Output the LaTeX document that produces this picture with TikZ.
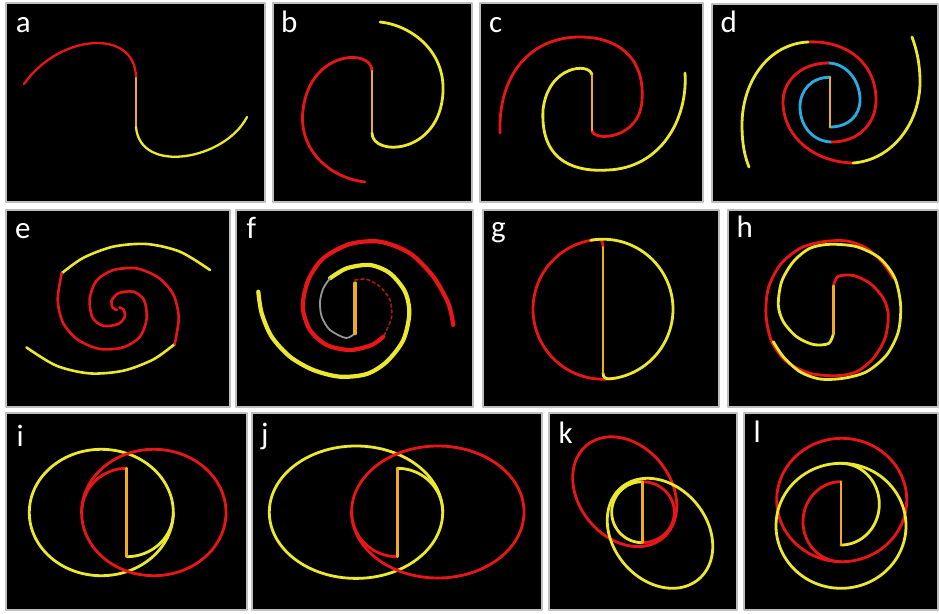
\documentclass[tikz,border=0pt]{standalone}
\usepackage{fontspec}
\setmainfont{Carlito}
\definecolor{cred}{RGB}{232,22,22}
\definecolor{cyel}{RGB}{235,232,45}
\definecolor{corg}{RGB}{240,172,28}
\definecolor{ccyan}{RGB}{40,172,225}
\definecolor{cgray}{RGB}{150,150,150}
\definecolor{cdred}{RGB}{170,25,25}
\definecolor{cframe}{RGB}{190,190,190}
\begin{document}
\begin{tikzpicture}[x=1pt,y=-1pt,line cap=round,line join=round,
  panel/.style={fill=black,draw=cframe,line width=1.3pt},
  lab/.style={text=white,anchor=base west,inner sep=0pt,font=\fontsize{31}{31}\selectfont},
  rd/.style={draw=cred,line width=2.8pt},
  yl/.style={draw=cyel,line width=2.8pt},
  og/.style={draw=corg,line width=2.8pt},
  cy/.style={draw=ccyan,line width=2.8pt},
  fr/.style={draw=cred,line width=4.2pt},
  fy/.style={draw=cyel,line width=4.2pt},
  fo/.style={draw=corg,line width=4pt},
  gy/.style={draw=cgray,line width=1.8pt},
  dr/.style={draw=cdred,line width=1.6pt,dash pattern=on 3pt off 3pt},
  thin/.style={line width=2.3pt}]
\fill[white] (0,0) rectangle (939,613);
\useasboundingbox (0,0) rectangle (939,613);

% panels
\draw[panel] (6,3) rectangle (265,202);
\draw[panel] (273,3) rectangle (472,202);
\draw[panel] (480,3) rectangle (703,202);
\draw[panel] (712,4) rectangle (938,202);
\draw[panel] (6,210) rectangle (230,407);
\draw[panel] (236,210) rectangle (473,407);
\draw[panel] (483,210) rectangle (719,407);
\draw[panel] (728,210) rectangle (938,407);
\draw[panel] (6,413) rectangle (247,610);
\draw[panel] (252,413) rectangle (542,610);
\draw[panel] (549,413) rectangle (737,610);
\draw[panel] (744,413) rectangle (938,610);

% labels
\node[lab] (la) at (15.8,32) {a};
\node[lab] (lb) at (281,32) {b};
\node[lab] (lc) at (489,32) {c};
\node[lab] (ld) at (720.5,32) {d};
\node[lab] (le) at (15,238.5) {e};
\node[lab] (lf) at (246.5,238) {f};
\node[lab] (lg) at (491,237.5) {g};
\node[lab] (lh) at (736.5,237.3) {h};
\node[lab] (li) at (16.5,446.5) {i};
\node[lab] (lj) at (261,444) {j};
\node[lab] (lk) at (558.5,443.3) {k};
\node[lab] (ll) at (753.5,442.3) {l};

% ---- a
\draw[rd,thin] (24,84) .. controls (60,33) and (136,28) .. (136,78);
\draw[og,thin] (136,78) -- (136,127);
\draw[yl,thin] (136,127) .. controls (140,175) and (225,160) .. (247,117);

% ---- b
\draw[rd] (372,71) .. controls (372,48) and (310,50) .. (303,110) .. controls (298,150) and (330,178) .. (365,182);
\draw[og] (372,71) -- (372,133);
\draw[yl] (372,133) .. controls (372,157) and (440,155) .. (443,92) .. controls (445,50) and (410,25) .. (380,22);

% ---- c
\draw[yl] (592,75) .. controls (590,62) and (548,65) .. (543,110) .. controls (540,165) and (580,172) .. (608,170) .. controls (660,168) and (688,120) .. (685,73);
\draw[rd] (592,130) .. controls (592,142) and (640,140) .. (642,100) .. controls (645,55) and (615,37) .. (580,37) .. controls (530,37) and (498,75) .. (500,133);
\draw[og] (592,75) -- (592,130);

% ---- d
\draw[cy] (830,77.3) .. controls (812,77) and (800,90) .. (800,107) .. controls (800,127) and (814,142) .. (832,142);
\draw[rd] (832,142) .. controls (858,142) and (876,124) .. (876,100) .. controls (876,62) and (845,40) .. (808,42);
\draw[yl] (808,42) .. controls (768,44) and (742,82) .. (742,125) .. controls (742,145) and (745,157) .. (749,167);
\draw[cy] (830,127) .. controls (848,127) and (860,116) .. (860,100) .. controls (860,79) and (845,63) .. (828,63);
\draw[rd] (828,63) .. controls (802,63) and (783,80) .. (783,102) .. controls (783,135) and (812,162) .. (853,163);
\draw[yl] (853,163) .. controls (893,160) and (920,122) .. (920,82) .. controls (920,62) and (916,48) .. (912,37);
\draw[og] (830,77.3) -- (830,127);

% ---- e
\foreach \r in {0,180}{
\begin{scope}[rotate around={\r:(118.2,308.7)}]
\draw[yl,line width=2.6pt] plot[smooth] coordinates {(210,270) (180,251.7) (146.7,244) (113,246.7) (83,258) (61.7,273.3)};
\draw[rd,line width=2.6pt] plot[smooth] coordinates {(61.7,273.3) (57.7,300) (63.3,323.3) (78.3,340) (100,349) (123.3,347.3) (140,336.7) (146.7,318.3) (144,300) (133.3,291.7) (118.3,293.3) (111.5,301) (113,308) (117,310)};
\end{scope}}

% ---- f
\draw[fy] plot[smooth] coordinates {(330,278.3) (346.7,268.3) (370,265) (390,273.3) (405,291.7) (409.3,313.3) (403.3,340) (386.7,361.7) (366.7,374) (340,376.7) (313.3,370) (290,356.7) (271.7,336.7) (261.7,313.3) (258.3,291.7)};
\draw[fr] plot[smooth] coordinates {(383.3,336.7) (371.7,345) (350,350) (326.7,345) (310,330) (302.7,306.7) (308.3,280) (323.3,258.3) (350,244) (380,241.7) (410,253.3) (433.3,276.7) (448.3,303.3) (453.3,325)};
\draw[gy] plot[smooth] coordinates {(355,333.3) (346,338) (330,330) (321.7,316.7) (320,301.7) (323.3,288.3) (330,278.3)};
\draw[dr] plot[smooth] coordinates {(355,280) (366.7,279.3) (380,286.7) (390,300) (391.7,316.7) (386.7,330) (383.3,336.7)};
\draw[fo] (355,283.3) -- (355,333.3);

% ---- g
\draw[rd] (603,247) .. controls (603,241) and (601,239.3) .. (598,239.4);
\draw[rd] plot[domain=-94:-280,samples=90,variable=\t] ({603+70*cos(\t)},{309.2+70*sin(\t)});
\draw[yl] (603,373) .. controls (603,378) and (606,379) .. (610.3,378.8);
\draw[yl] plot[domain=84:-100,samples=90,variable=\t] ({603+70*cos(\t)},{309.2+70*sin(\t)});
\draw[og] (603,247) -- (603,373);

% ---- h
\foreach \r/\s in {0/rd,180/yl}{
\begin{scope}[rotate around={\r:(833.3,310)}]
\draw[\s] plot[smooth] coordinates {(833.3,286) (838,276.5) (853.3,275.5) (870,283.3) (883.3,298.3) (888.3,315) (885,338.3) (873.3,358.3) (856.7,371.7) (836.7,375.7) (810,373.3) (786.7,361.7) (771.7,341.7) (766,315) (768.3,288.3) (780,265) (800,248.3) (823.3,241.7) (846.7,241) (866.7,248.3) (883.3,263.3) (893.3,278.3)};
\end{scope}}
\draw[og] (833.3,286) -- (833.3,334);

% ---- i
\draw[yl] (101.3,512.5) ellipse [x radius=72, y radius=63.2];
\draw[rd] (153.8,512.5) ellipse [x radius=72.2, y radius=63.2];
\draw[rd] plot[domain=-90:-180,samples=40,variable=\t] ({126.7+45*cos(\t)},{512.5+44.2*sin(\t)});
\draw[yl] plot[domain=90:0,samples=40,variable=\t] ({126.7+46.6*cos(\t)},{512.5+44.2*sin(\t)});
\draw[og] (126.7,468.3) -- (126.7,556.7);

% ---- j
\draw[yl] (356,512.2) ellipse [x radius=86.7, y radius=66.2];
\draw[rd] (437.8,512) ellipse [x radius=86.2, y radius=66];
\draw[yl] plot[domain=-90:0,samples=40,variable=\t] ({397.3+45.4*cos(\t)},{512.2+43.9*sin(\t)});
\draw[rd] plot[domain=90:180,samples=40,variable=\t] ({397.3+45.6*cos(\t)},{512.2+44.5*sin(\t)});
\draw[og] (397.3,468.3) -- (397.3,556.7);

% ---- k
\draw[rd] plot[domain=0:360,samples=120,variable=\t] ({624.7+60*cos(\t)*cos(51)-46*sin(\t)*sin(51)},{491.7+60*cos(\t)*sin(51)+46*sin(\t)*cos(51)}) -- cycle;
\draw[yl] plot[domain=0:360,samples=120,variable=\t] ({660+60*cos(\t)*cos(50)-47*sin(\t)*sin(50)},{533.3+60*cos(\t)*sin(50)+47*sin(\t)*cos(50)}) -- cycle;
\draw[yl] plot[domain=90:270,samples=50,variable=\t] ({642.3+30.6*cos(\t)},{512.2+30.5*sin(\t)});
\draw[rd] plot[domain=-90:90,samples=50,variable=\t] ({642.3+32*cos(\t)},{512.2+30.5*sin(\t)});
\draw[og] (642.3,481.7) -- (642.3,542.7);

% ---- l
\draw[rd] (841.7,500) ellipse [x radius=65, y radius=61.7];
\draw[yl] (841,525.8) ellipse [x radius=65, y radius=62.5];
\draw[rd] plot[domain=270:90,samples=60,variable=\t] ({841+38*cos(\t)},{521.7+40*sin(\t)});
\draw[yl] plot[domain=90:-90,samples=60,variable=\t] ({841+38.3*cos(\t)},{504.2+40.8*sin(\t)});
\draw[og] (841,481.7) -- (841,545);
\end{tikzpicture}
\end{document}
